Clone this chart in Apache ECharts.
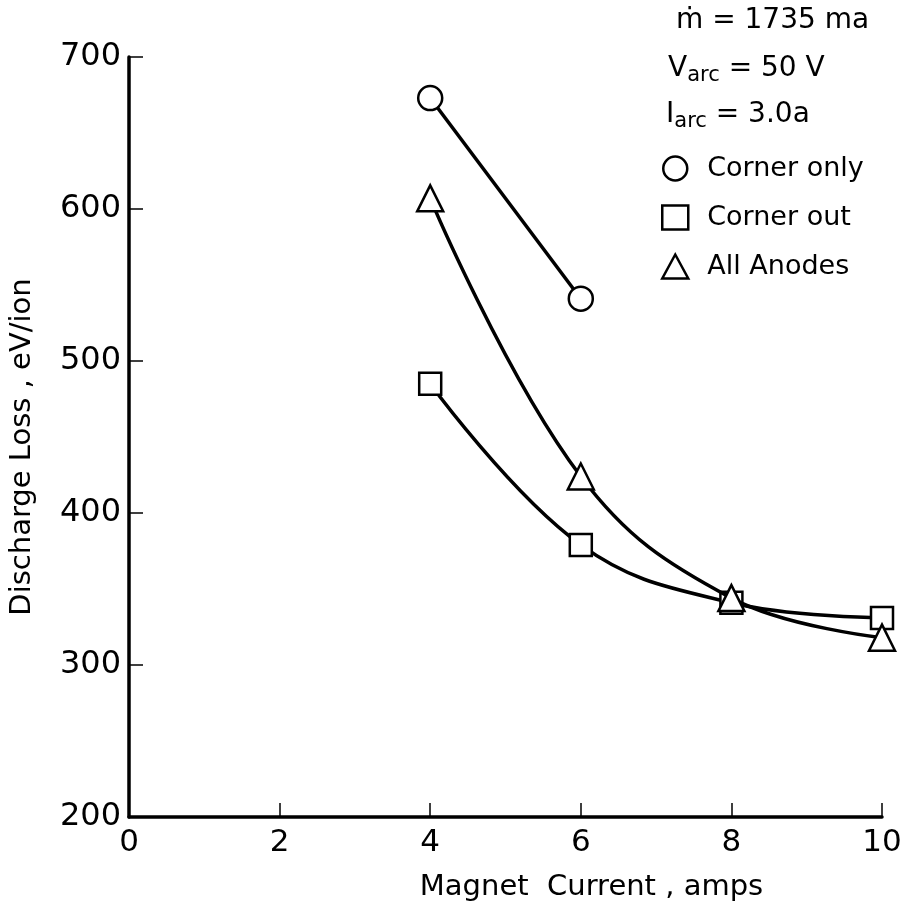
<!DOCTYPE html>
<html>
<head>
<meta charset="utf-8">
<script src="https://cdn.jsdelivr.net/npm/echarts@6/dist/echarts.min.js"></script>
<style>
html, body { margin: 0; padding: 0; background: #fff; }
#main { width: 906px; height: 907px; }
</style>
</head>
<body>
<div id="main"></div>
<script>
// data
var xTicks = [0, 2, 4, 6, 8, 10];
var yTicks = [200, 300, 400, 500, 600, 700];
var xCornerOnly = [4, 6];
var cornerOnly = [673, 541];
var xCurrent = [4, 6, 8, 10];
var cornerOut = [485, 379, 341, 331];
var allAnodes = [607, 424, 344, 318];

function pairs(xs, ys) {
	var out = [];
	for (var i = 0; i < xs.length; i++) {
		out.push([xs[i], ys[i]]);
	}
	return out;
}

var FONT = 'DejaVu Sans';
var chart = echarts.init(document.getElementById('main'));

var markStyle = {
	color: '#fff',
	borderColor: '#000',
	borderWidth: 2.5
};

option = {
	backgroundColor: '#fff',
	animation: false,
	grid: { left: 129, right: 24, top: 57, bottom: 88 },
	xAxis: {
		type: 'value',
		min: 0,
		max: 10,
		interval: 2,
		name: 'Magnet  Current , amps',
		nameLocation: 'middle',
		nameGap: 56,
		nameTextStyle: { fontFamily: FONT, fontSize: 29, color: '#000', padding: [0, 0, 0, 172] },
		axisLine: { lineStyle: { color: '#000', width: 3.5 } },
		axisTick: { inside: true, length: 14, lineStyle: { color: '#000', width: 1.5 } },
		axisLabel: { fontFamily: FONT, fontSize: 31, color: '#000', margin: 10 },
		splitLine: { show: false }
	},
	yAxis: {
		type: 'value',
		min: 200,
		max: 700,
		interval: 100,
		name: 'Discharge Loss , eV/ion',
		nameLocation: 'middle',
		nameGap: 92,
		nameTextStyle: { fontFamily: FONT, fontSize: 29, color: '#000', padding: [0, 20, 0, 0] },
		axisLine: { lineStyle: { color: '#000', width: 3.5 } },
		axisTick: { inside: true, length: 14, lineStyle: { color: '#000', width: 1.5 } },
		axisLabel: { fontFamily: FONT, fontSize: 32, color: '#000', margin: 8 },
		splitLine: { show: false }
	},
	legend: {
		orient: 'vertical',
		left: 656,
		top: 150,
		itemWidth: 26,
		itemHeight: 24,
		itemGap: 22,
		textStyle: { fontFamily: FONT, fontSize: 27, color: '#000', padding: [0, 0, 0, 14] },
		data: [
			{ name: 'Corner only', icon: 'circle' },
			{ name: 'Corner out', icon: 'rect' },
			{ name: 'All Anodes', icon: 'triangle' }
		],
		itemStyle: markStyle
	},
	graphic: [
		{
			type: 'text', left: 676, top: 7,
			style: { text: 'ṁ = 1735 ma', fontFamily: FONT, fontSize: 28, fill: '#000' }
		},
		{
			type: 'text', left: 668, top: 55,
			style: {
				text: 'V{s|arc} = 50 V',
				fontFamily: FONT, fontSize: 28, fill: '#000',
				rich: { s: { fontFamily: FONT, fontSize: 21, verticalAlign: 'bottom', padding: [14, 0, 0, 0] } }
			}
		},
		{
			type: 'text', left: 666, top: 101,
			style: {
				text: 'I{s|arc} = 3.0a',
				fontFamily: FONT, fontSize: 28, fill: '#000',
				rich: { s: { fontFamily: FONT, fontSize: 21, verticalAlign: 'bottom', padding: [14, 0, 0, 0] } }
			}
		}
	],
	series: [
		{
			name: 'Corner only',
			type: 'line',
			data: pairs(xCornerOnly, cornerOnly),
			symbol: 'circle',
			symbolSize: 24,
			itemStyle: markStyle,
			lineStyle: { color: '#000', width: 3.5 },
			z: 3
		},
		{
			name: 'Corner out',
			type: 'line',
			smooth: 0.4,
			data: pairs(xCurrent, cornerOut),
			symbol: 'rect',
			symbolSize: 22,
			itemStyle: markStyle,
			lineStyle: { color: '#000', width: 3.5 },
			z: 3
		},
		{
			name: 'All Anodes',
			type: 'line',
			smooth: 0.4,
			data: pairs(xCurrent, allAnodes),
			symbol: 'triangle',
			symbolSize: 26,
			itemStyle: markStyle,
			lineStyle: { color: '#000', width: 3.5 },
			z: 4
		}
	]
};

chart.setOption(option);
</script>
</body>
</html>
